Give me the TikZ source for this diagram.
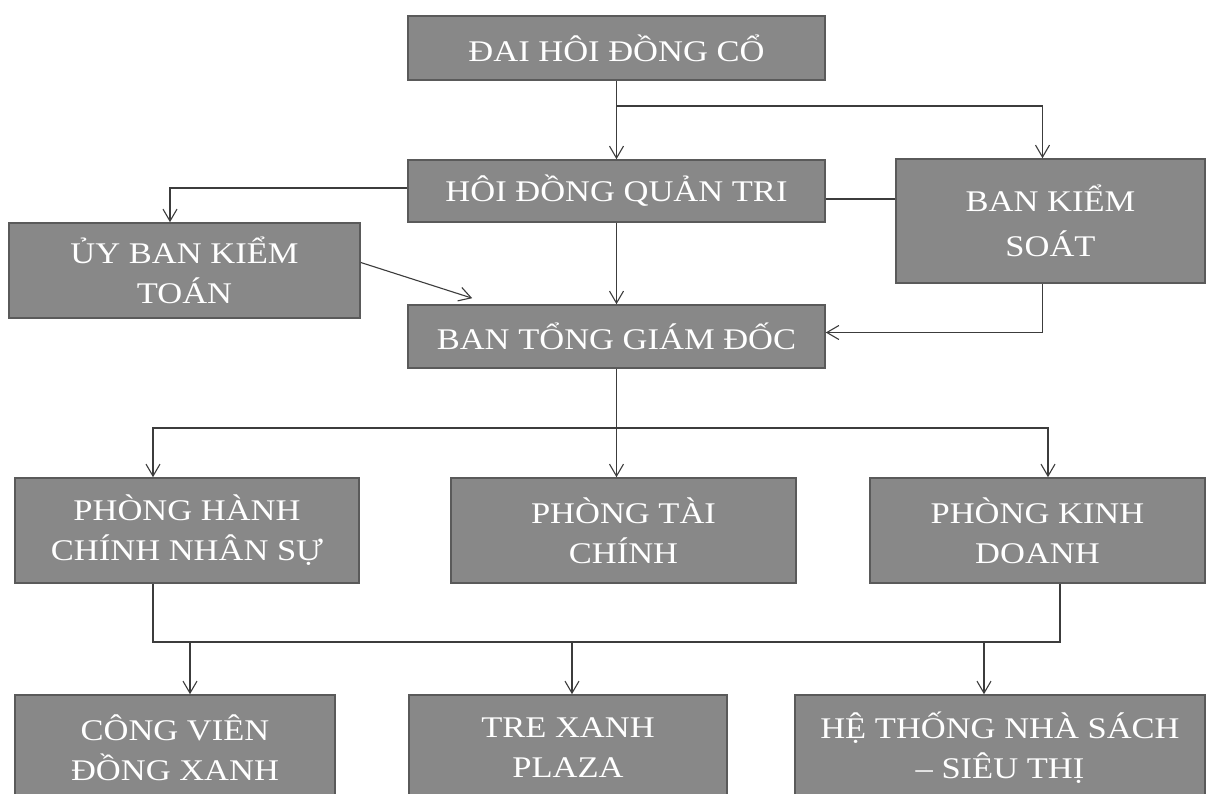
\documentclass[tikz,border=0pt]{standalone}
\usepackage{fontspec}
\setmainfont{Liberation Serif}[FakeStretch=1.15]
\usetikzlibrary{arrows.meta,calc}
\definecolor{boxfill}{HTML}{888888}
\definecolor{boxline}{HTML}{5A5A5A}
\definecolor{linkcol}{HTML}{3C3C3C}
\tikzset{
  orgbox/.style={draw=boxline, line width=1.6pt, fill=boxfill, text=white,
    align=center, inner sep=0pt, font=\fontsize{30}{40}\selectfont},
  link/.style={draw=linkcol, line width=1.1pt},
  arr/.style={link, -{Straight Barb[length=12pt,width=14pt,line width=1.1pt]}}
}
\begin{document}
\begin{tikzpicture}[x=1pt,y=-1pt]
\useasboundingbox (0,0) rectangle (1208,794);
\clip (0,0) rectangle (1208,794);
\fill[white] (0,0) rectangle (1208,794);
% nodes
\node[orgbox, minimum width=417pt, minimum height=64pt] (dhdc) at (616.5,48) {ĐAI HÔI ĐỒNG CỔ};
\node[orgbox, minimum width=417pt, minimum height=62pt] (hdqt) at (616.5,191) {HÔI ĐỒNG QUẢN TRI};
\node[orgbox, minimum width=309pt, minimum height=124pt] (bks) at (1050.5,221) {BAN KIỂM\\[5pt]SOÁT};
\node[orgbox, minimum width=351pt, minimum height=95pt] (uyban) at (184.5,270.5) {ỦY BAN KIỂM\\TOÁN};
\node[orgbox, minimum width=417pt, minimum height=63pt] (btgd) at (616.5,336.5) {BAN TỔNG GIÁM ĐỐC};
\node[orgbox, minimum width=344pt, minimum height=105pt] (phc) at (187,530.5) {PHÒNG HÀNH\\CHÍNH NHÂN SỰ};
\node[orgbox, minimum width=345pt, minimum height=105pt] (ptc) at (623.5,530.5) {PHÒNG TÀI\\CHÍNH};
\node[orgbox, minimum width=335pt, minimum height=105pt] (pkd) at (1037.5,530.5) {PHÒNG KINH\\DOANH};
\node[orgbox, minimum width=320pt, minimum height=105pt] (cvdx) at (175,747.5) {CÔNG VIÊN\\ĐỒNG XANH};
\node[orgbox, minimum width=318pt, minimum height=105pt] (txp) at (568,747.5) {TRE XANH\\PLAZA};
\node[orgbox, minimum width=410pt, minimum height=105pt] (htns) at (1000,747.5) {HỆ THỐNG NHÀ SÁCH\\– SIÊU THỊ};
% junction coordinates
\coordinate (j1) at (616.5,106);
\coordinate (j2) at (616.5,428);
\coordinate (b1) at (153,642);
\coordinate (b2) at (1060,642);
% top
\draw[arr] (dhdc.south) -- (hdqt.north);
\draw[arr] (j1) -| ([xshift=-8pt]bks.north);
\draw[arr] ([yshift=3pt]hdqt.west) -| ([xshift=-14.5pt]uyban.north);
\draw[link] ([yshift=-8pt]hdqt.east) coordinate (h1) -- (h1 -| bks.west);
\draw[arr] (hdqt.south) -- (btgd.north);
\draw[arr] ([yshift=8pt]uyban.east) -- ([xshift=65pt,yshift=6pt]btgd.north west);
\draw[arr] ([xshift=-8pt]bks.south) |- ([yshift=4pt]btgd.east);
% middle
\draw[link] (btgd.south) -- (j2);
\draw[arr] (j2) -| ([xshift=-34pt]phc.north);
\draw[arr] (j2) -- (j2 |- ptc.north);
\draw[arr] (j2) -| ([xshift=10.5pt]pkd.north);
% bottom
\draw[link] ([xshift=-34pt]phc.south) -- (b1) -- (b2) -- ([xshift=22.5pt]pkd.south);
\path ([xshift=15pt]cvdx.north) coordinate (c1t)
      ([xshift=4pt]txp.north) coordinate (c2t)
      ([xshift=-16pt]htns.north) coordinate (c3t);
\draw[arr] (c1t |- b1) -- (c1t);
\draw[arr] (c2t |- b1) -- (c2t);
\draw[arr] (c3t |- b1) -- (c3t);
\end{tikzpicture}
\end{document}
